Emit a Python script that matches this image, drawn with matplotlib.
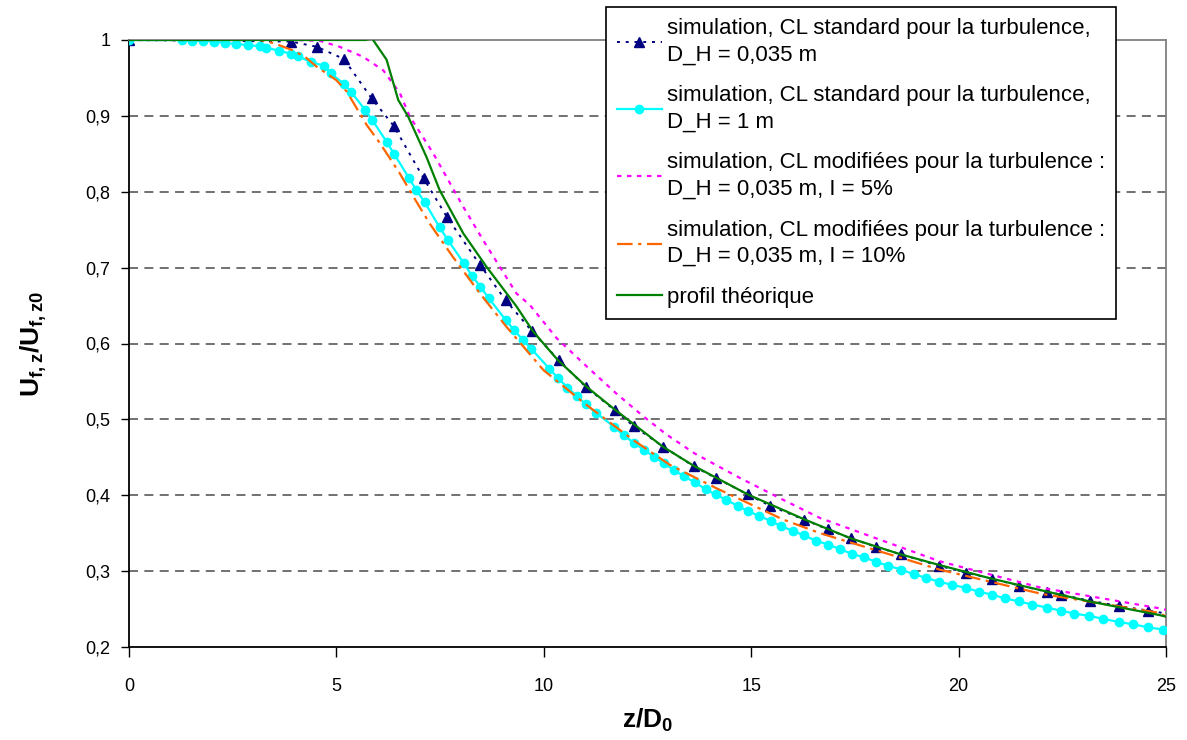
import numpy as np
import matplotlib.pyplot as plt
from matplotlib.ticker import FixedLocator

plt.rcParams['font.family'] = ['Liberation Sans', 'DejaVu Sans']
plt.rcParams['mathtext.fontset'] = 'custom'
plt.rcParams['mathtext.bf'] = 'Liberation Sans:bold'
plt.rcParams['mathtext.rm'] = 'Liberation Sans'

# simulation, CL standard, D_H = 0,035 m (triangles)
z_std035 = [0.0, 3.91, 4.53, 5.18, 5.85, 6.38, 7.10, 7.66, 8.47, 9.08, 9.72, 10.36,
            11.01, 11.71, 12.17, 12.88, 13.62, 14.14, 14.92, 15.46, 16.27, 16.85,
            17.41, 18.01, 18.61, 19.53, 20.17, 20.80, 21.46, 22.13, 22.47, 23.16,
            23.87, 24.57, 25.25]
u_std035 = [1.0, 0.998, 0.991, 0.975, 0.923, 0.887, 0.818, 0.767, 0.703, 0.657, 0.616,
            0.578, 0.543, 0.512, 0.491, 0.464, 0.438, 0.423, 0.401, 0.386, 0.368,
            0.355, 0.343, 0.332, 0.322, 0.307, 0.298, 0.290, 0.281, 0.273, 0.269,
            0.261, 0.254, 0.248, 0.242]

# simulation, CL standard, D_H = 1 m (circles)
z_std1 = [0.0, 1.27, 1.51, 1.78, 2.05, 2.31, 2.59, 2.87, 3.16, 3.30, 3.61, 3.90, 4.07,
          4.38, 4.71, 4.86, 5.19, 5.35, 5.69, 5.86, 6.22, 6.39, 6.75, 6.93, 7.13, 7.49,
          7.68, 8.07, 8.27, 8.47, 8.67, 9.08, 9.28, 9.49, 9.70, 10.13, 10.35, 10.57,
          10.79, 11.01, 11.25, 11.70, 11.93, 12.17, 12.41, 12.65, 12.90, 13.14, 13.38,
          13.64, 13.90, 14.14, 14.40, 14.67, 14.92, 15.19, 15.47, 15.73, 16.01, 16.28,
          16.56, 16.86, 17.14, 17.42, 17.73, 18.02, 18.31, 18.61, 18.92, 19.22, 19.53,
          19.84, 20.17, 20.48, 20.80, 21.13, 21.45, 21.78, 22.12, 22.46, 22.79, 23.15,
          23.49, 23.86, 24.20, 24.56, 24.93]
u_std1 = [1.0, 1.0, 0.999, 0.999, 0.998, 0.996, 0.995, 0.993, 0.992, 0.990, 0.986, 0.982,
          0.979, 0.971, 0.966, 0.956, 0.942, 0.932, 0.908, 0.895, 0.865, 0.850, 0.818,
          0.802, 0.786, 0.753, 0.737, 0.706, 0.689, 0.675, 0.660, 0.631, 0.618, 0.605,
          0.593, 0.567, 0.554, 0.542, 0.531, 0.520, 0.509, 0.490, 0.479, 0.469, 0.460,
          0.451, 0.442, 0.433, 0.425, 0.417, 0.408, 0.401, 0.394, 0.386, 0.379, 0.373,
          0.366, 0.359, 0.353, 0.347, 0.340, 0.335, 0.329, 0.323, 0.318, 0.312, 0.307,
          0.302, 0.296, 0.291, 0.286, 0.282, 0.278, 0.273, 0.269, 0.264, 0.260, 0.256,
          0.252, 0.248, 0.244, 0.241, 0.237, 0.233, 0.230, 0.226, 0.223]

# simulation, CL modifiees, I = 5% (magenta)
z_mod5 = [0.0, 4.0, 4.6, 5.08, 5.64, 6.13, 6.53, 6.77, 7.33, 7.69, 8.06, 8.54, 9.34,
          9.66, 10.31, 11.03, 11.75, 12.40, 12.96, 13.64, 14.72, 15.77, 16.66, 19.54,
          22.0, 24.84, 25.0]
u_mod5 = [1.0, 1.0, 0.999, 0.991, 0.978, 0.960, 0.930, 0.899, 0.851, 0.816, 0.780, 0.736,
          0.666, 0.651, 0.607, 0.570, 0.534, 0.504, 0.480, 0.455, 0.423, 0.394, 0.370,
          0.313, 0.278, 0.251, 0.249]

# simulation, CL modifiees, I = 10% (orange)
z_mod10 = [0.0, 1.5, 2.5, 3.16, 3.48, 3.92, 4.24, 4.52, 5.00, 5.25, 5.49, 5.73, 6.05,
           6.53, 6.85, 7.25, 7.81, 8.46, 9.10, 9.99, 11.03, 12.15, 13.04, 14.17, 15.77,
           16.66, 19.54, 22.0, 24.84, 25.0]
u_mod10 = [1.0, 1.002, 1.002, 1.0, 0.996, 0.987, 0.978, 0.965, 0.947, 0.932, 0.910, 0.888,
           0.864, 0.824, 0.794, 0.758, 0.714, 0.666, 0.622, 0.565, 0.519, 0.473, 0.440,
           0.409, 0.368, 0.350, 0.302, 0.270, 0.245, 0.240]

# profil theorique (green)
z_theo = [0.0, 5.70, 5.86, 6.21, 6.49, 6.73, 7.17, 7.49, 8.06, 8.62, 9.34, 9.74, 10.34,
          11.03, 11.71, 12.87, 13.64, 14.92, 16.29, 17.41, 18.61, 19.54, 20.80, 22.13,
          23.16, 24.85, 25.0]
u_theo = [1.0, 1.0, 1.002, 0.974, 0.921, 0.899, 0.846, 0.802, 0.745, 0.701, 0.649, 0.616,
          0.578, 0.543, 0.513, 0.464, 0.438, 0.401, 0.368, 0.343, 0.322, 0.308, 0.290,
          0.273, 0.260, 0.242, 0.240]

labels = ['simulation, CL standard pour la turbulence,\nD_H = 0,035 m',
          'simulation, CL standard pour la turbulence,\nD_H = 1 m',
          'simulation, CL modifiées pour la turbulence :\nD_H = 0,035 m, I = 5%',
          'simulation, CL modifiées pour la turbulence :\nD_H = 0,035 m, I = 10%',
          'profil théorique']

xticks = [0, 5, 10, 15, 20, 25]
yticks = [0.2, 0.3, 0.4, 0.5, 0.6, 0.7, 0.8, 0.9, 1.0]
ytick_labels = ['0,2', '0,3', '0,4', '0,5', '0,6', '0,7', '0,8', '0,9', '1']

fig = plt.figure(figsize=(11.87, 7.40), dpi=100)
ax = fig.add_axes([129 / 1187, 1 - 647 / 740, (1166 - 129) / 1187, (647 - 40) / 740])

for y in yticks[1:-1]:
    ax.axhline(y, color='#666666', lw=1.3, ls=(0, (5, 3.5)), zorder=1)

ax.plot(z_std035, u_std035, color='#000080', lw=1.4, ls=(0, (1.5, 3)),
        marker='^', ms=6.5, label=labels[0], zorder=3)
ax.plot(z_std1, u_std1, color='#00FFFF', lw=1.6, marker='o', ms=6,
        label=labels[1], zorder=3)
ax.plot(z_mod5, u_mod5, color='#FF00FF', lw=1.6, ls=(0, (2, 2.5)),
        label=labels[2], zorder=3)
ax.plot(z_mod10, u_mod10, color='#FF6600', lw=1.6, ls=(0, (7, 2.5, 1.5, 2.5)),
        label=labels[3], zorder=3)
ax.plot(z_theo, u_theo, color='#008000', lw=1.6, label=labels[4], zorder=4)

ax.set_xlim(0, 25)
ax.set_ylim(0.2, 1.0)
ax.xaxis.set_major_locator(FixedLocator(xticks))
ax.set_xticklabels([str(t) for t in xticks])
ax.yaxis.set_major_locator(FixedLocator(yticks))
ax.set_yticklabels(ytick_labels)
ax.tick_params(axis='x', direction='out', length=7, width=1, pad=15, labelsize=13)
ax.tick_params(axis='y', direction='out', length=6, width=1, pad=7.5, labelsize=13)

ax.spines['left'].set_color('black')
ax.spines['bottom'].set_color('black')
ax.spines['top'].set_color('#808080')
ax.spines['right'].set_color('#808080')
for s in ax.spines.values():
    s.set_linewidth(1.3)

ax.set_xlabel(r'$\mathbf{z/D_0}$', fontsize=19, labelpad=9)
ax.set_ylabel(r'$\mathbf{U_{f,z}/U_{f,z0}}$', fontsize=19, labelpad=26)

leg = ax.legend(loc='upper left', bbox_to_anchor=(606 / 1187, 1 - 7 / 740),
                bbox_transform=fig.transFigure, borderaxespad=0, fancybox=False,
                framealpha=1, edgecolor='black', fontsize=16, handlelength=2.0,
                handletextpad=0.25, borderpad=0.5, labelspacing=0.88)
leg.get_frame().set_linewidth(1.2)
for t in leg.get_texts():
    t.set_linespacing(1.35)

fig.savefig('out.png', dpi=100)
